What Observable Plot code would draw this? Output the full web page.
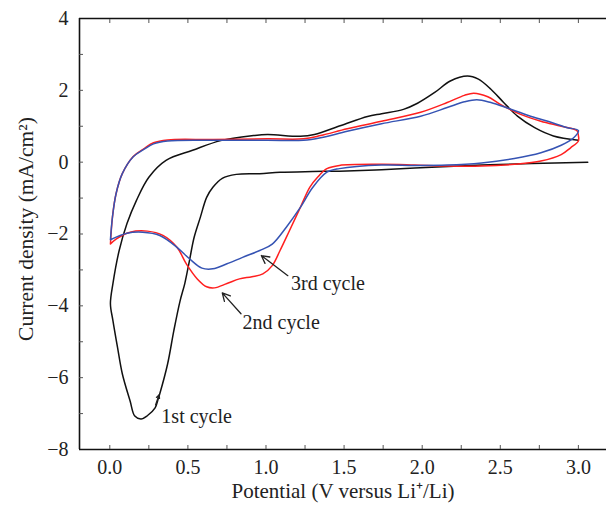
<!DOCTYPE html>
<html>
<head>
<meta charset="utf-8">
<script src="https://cdn.jsdelivr.net/npm/d3@7"></script>
<script src="https://cdn.jsdelivr.net/npm/@observablehq/plot@0.6"></script>
<style>
  html, body { margin: 0; padding: 0; background: #fff; }
</style>
</head>
<body>
<div id="chart"></div>
<script>
// Axis settings
const xDomain = [-0.194, 3.18];
const yDomain = [-8, 4];
const xMajor = [0, 0.5, 1.0, 1.5, 2.0, 2.5, 3.0];
const xMinor = [0, 0.25, 0.5, 0.75, 1.0, 1.25, 1.5, 1.75, 2.0, 2.25, 2.5, 2.75, 3.0];
const yMajor = [-8, -6, -4, -2, 0, 2, 4];
const yMinor = [-7, -6, -5, -4, -3, -2, -1, 0, 1, 2, 3];
const xTitle = "Potential (V versus Li\u207A/Li)";
const yTitle = "Current density (mA/cm\u00B2)";

// 1st cycle (black)
const volt1 = [3.06,2.70,2.38,2.06,1.74,1.47,1.30,1.09,0.96,0.81,0.72,0.66,0.62,0.58,0.54,0.51,0.48,0.45,0.41,0.37,0.32,0.31,0.29,0.24,0.20,0.16,0.13,0.08,0.05,0.02,0.004,0.02,0.06,0.11,0.17,0.25,0.36,0.53,0.71,0.92,1.01,1.22,1.31,1.48,1.65,1.74,1.88,1.97,2.08,2.18,2.29,2.36,2.44,2.52,2.61,2.72,2.84,3.00];
const curr1 = [0.00,-0.04,-0.08,-0.14,-0.21,-0.25,-0.26,-0.28,-0.32,-0.34,-0.45,-0.70,-0.98,-1.53,-2.09,-2.74,-3.38,-3.86,-4.69,-5.62,-6.45,-6.59,-6.84,-7.06,-7.15,-7.07,-6.65,-5.89,-5.17,-4.41,-3.94,-3.38,-2.46,-1.71,-1.07,-0.42,0.05,0.33,0.60,0.74,0.77,0.72,0.77,1.02,1.27,1.35,1.47,1.64,1.94,2.26,2.40,2.31,2.03,1.67,1.28,0.96,0.73,0.61];

// 2nd cycle (red)
const volt2 = [0.004,0.017,0.04,0.08,0.15,0.22,0.28,0.37,0.66,1.01,1.24,1.35,1.52,1.74,1.99,2.16,2.27,2.33,2.42,2.50,2.63,2.76,2.89,2.99,3.00,3.00,2.95,2.89,2.76,2.59,2.38,2.16,1.95,1.74,1.47,1.39,1.33,1.28,1.22,1.15,1.09,1.04,0.98,0.91,0.83,0.75,0.67,0.62,0.56,0.49,0.43,0.34,0.24,0.13,0.04,0.004];
const curr2 = [-2.28,-1.53,-0.88,-0.32,0.16,0.38,0.54,0.62,0.63,0.65,0.65,0.74,0.93,1.14,1.39,1.66,1.86,1.92,1.82,1.61,1.33,1.14,1.00,0.88,0.74,0.59,0.40,0.21,0.03,-0.06,-0.11,-0.11,-0.08,-0.06,-0.09,-0.18,-0.42,-0.70,-1.26,-1.91,-2.46,-2.88,-3.11,-3.19,-3.25,-3.38,-3.50,-3.47,-3.25,-2.83,-2.37,-2.04,-1.92,-1.95,-2.14,-2.28];

// 3rd cycle (blue)
const volt3 = [0.004,0.017,0.04,0.08,0.15,0.22,0.28,0.37,0.66,1.01,1.24,1.35,1.52,1.74,1.99,2.16,2.27,2.35,2.44,2.55,2.68,2.81,2.93,3.00,2.97,2.89,2.76,2.59,2.38,2.16,1.95,1.74,1.47,1.39,1.30,1.22,1.13,1.04,0.96,0.85,0.75,0.66,0.59,0.51,0.43,0.32,0.21,0.11,0.004];
const curr3 = [-2.16,-1.53,-0.88,-0.32,0.15,0.36,0.51,0.59,0.61,0.61,0.61,0.68,0.86,1.07,1.28,1.52,1.68,1.74,1.66,1.50,1.30,1.13,0.96,0.88,0.68,0.47,0.26,0.10,-0.02,-0.08,-0.09,-0.08,-0.18,-0.28,-0.70,-1.26,-1.81,-2.28,-2.46,-2.65,-2.83,-2.97,-2.95,-2.69,-2.37,-2.04,-1.95,-1.98,-2.16];

const seriesNames = ["1st cycle", "2nd cycle", "3rd cycle"];
const seriesColors = ["#111111", "#ff1f1f", "#3553b3"];

// Annotations
const noteText = ["1st cycle", "2nd cycle", "3rd cycle"];
const noteX = [0.33, 0.85, 1.16];
const noteY = [-7.07, -4.47, -3.38];
const arrowX1 = [0.293, 0.84, 1.14];
const arrowY1 = [-6.76, -4.22, -3.16];
const arrowX2 = [0.315, 0.72, 0.97];
const arrowY2 = [-6.48, -3.64, -2.60];

const toRows = (vs, cs, name) => vs.map((v, i) => ({v, c: cs[i], name}));
const rows1 = toRows(volt1, curr1, seriesNames[0]);
const rows2 = toRows(volt2, curr2, seriesNames[1]);
const rows3 = toRows(volt3, curr3, seriesNames[2]);
const notes = noteText.map((t, i) => ({t, x: noteX[i], y: noteY[i]}));
const arrows = arrowX1.map((x1, i) => ({x1, y1: arrowY1[i], x2: arrowX2[i], y2: arrowY2[i]}));

const lineOpts = (color) => ({x: "v", y: "c", stroke: color, strokeWidth: 1.5, curve: "catmull-rom"});

const chart = Plot.plot({
  width: 606,
  height: 510,
  marginLeft: 79,
  marginRight: 0,
  marginTop: 18,
  marginBottom: 61,
  style: {fontFamily: "'Liberation Serif', 'Times New Roman', serif", fontSize: "20px", color: "#222", background: "#fff"},
  x: {domain: xDomain},
  y: {domain: yDomain},
  marks: [
    Plot.line(rows1, lineOpts(seriesColors[0])),
    Plot.line(rows2, lineOpts(seriesColors[1])),
    Plot.line(rows3, lineOpts(seriesColors[2])),
    Plot.ruleY([yDomain[1], yDomain[0]], {stroke: "#111", strokeWidth: 1.6}),
    Plot.ruleX([xDomain[0]], {stroke: "#111", strokeWidth: 1.6}),
    Plot.axisX({anchor: "bottom", ticks: xMajor, tickSize: 0, tickPadding: 10, tickFormat: d3.format(".1f"), label: null, fontSize: 20}),
    Plot.axisX({anchor: "bottom", ticks: xMinor, tickSize: -4, tickFormat: () => "", label: null, stroke: "#555"}),
    Plot.axisX({anchor: "top", ticks: xMinor, tickSize: -4, tickFormat: () => "", label: null, stroke: "#555"}),
    Plot.axisY({anchor: "left", ticks: yMajor, tickSize: 0, tickPadding: 11, label: null, fontSize: 20}),
    Plot.axisY({anchor: "left", ticks: yMinor, tickSize: -4, tickFormat: () => "", label: null, stroke: "#555"}),
    Plot.text([xTitle], {text: d => d, frameAnchor: "bottom", dy: 48.5, fontSize: 21, fill: "#222"}),
    Plot.text([yTitle], {text: d => d, frameAnchor: "left", textAnchor: "middle", rotate: -90, dx: -53, dy: -5, fontSize: 21.5, fill: "#222"}),
    Plot.arrow(arrows, {x1: "x1", y1: "y1", x2: "x2", y2: "y2", stroke: "#222", strokeWidth: 1.3, headLength: 10, headAngle: 55}),
    Plot.text(notes, {x: "x", y: "y", text: "t", textAnchor: "start", fontSize: 20, fill: "#222"})
  ]
});

document.getElementById("chart").appendChild(chart);
</script>
</body>
</html>
